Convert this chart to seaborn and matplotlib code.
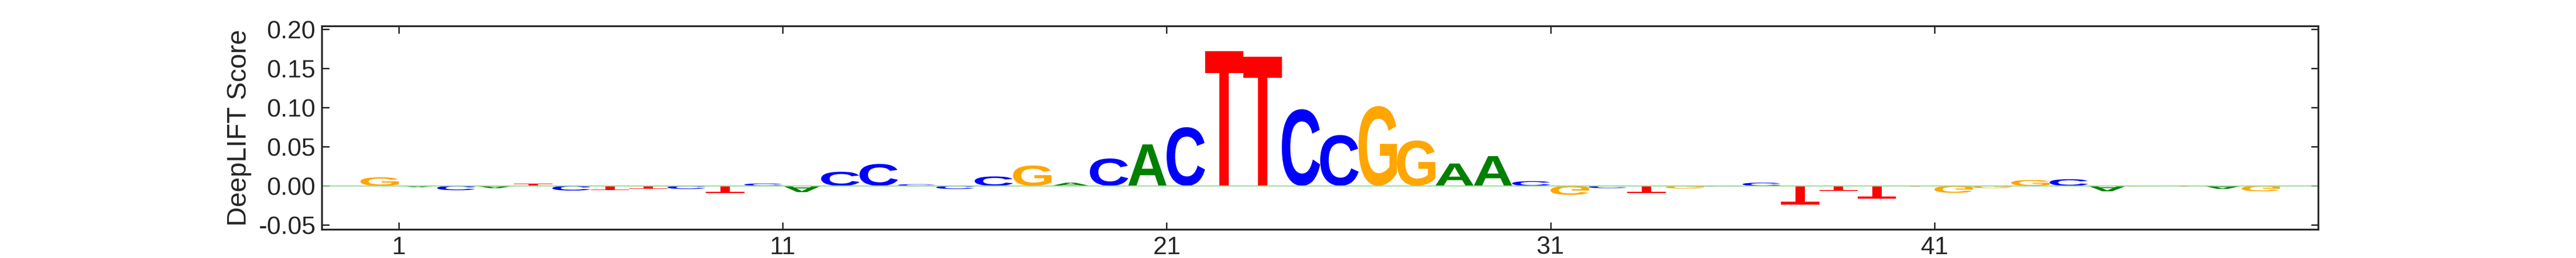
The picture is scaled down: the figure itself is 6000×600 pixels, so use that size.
import matplotlib
matplotlib.use("Agg")
import matplotlib.pyplot as plt
import seaborn as sns
from matplotlib.textpath import TextPath
from matplotlib.patches import PathPatch
from matplotlib.font_manager import FontProperties
from matplotlib.transforms import Affine2D

scores = [0.011, -0.0017, -0.0056, -0.003, 0.003, -0.006, -0.0055, -0.004, -0.004, -0.009,
          0.003, -0.008, 0.018, 0.028, 0.002, -0.004, 0.012, 0.026, 0.004, 0.035,
          0.053, 0.075, 0.172, 0.165, 0.098, 0.065, 0.102, 0.058, 0.0285, 0.038,
          0.006, -0.0115, -0.003, -0.009, -0.0035, -0.001, 0.004, -0.024, -0.0065, -0.0165,
          -0.001, -0.009, -0.003, 0.0075, 0.0085, -0.007, -0.001, -0.001, -0.004, -0.007]
letters = list("GACATCTTCTCACCCCCGACACTTCCGGAACGCTGCCTTTTGGGCAGTAG")
tick_pos = [1, 11, 21, 31, 41]
tick_labels = ["1", "11", "21", "31", "41"]
y_ticks = [-0.05, 0.0, 0.05, 0.10, 0.15, 0.20]
colors = {"A": (0, 0.5, 0), "C": (0, 0, 1), "G": (1, 0.65, 0), "T": (1, 0, 0)}

sns.set_style("ticks")
plt.rcParams['font.family'] = ['Liberation Sans', 'DejaVu Sans']

fig, ax = plt.subplots(figsize=(20, 2), dpi=300)
fig.subplots_adjust(left=0.125, right=0.9, bottom=0.11, top=0.898)
sns.lineplot(x=[-1, 51], y=[0, 0], ax=ax, color=(0.6, 0.85, 0.6), linewidth=0.6)

fp = FontProperties(family="Liberation Sans", weight="bold")
for j, (L, h) in enumerate(zip(letters, scores)):
    tp = TextPath((0, 0), L, size=1, prop=fp)
    ext = tp.get_extents()
    tr = (Affine2D().translate(-ext.x0, -ext.y0)
          .scale(1.0 / ext.width, h / ext.height)
          .translate(j, 0))
    ax.add_patch(PathPatch(tr.transform_path(tp), facecolor=colors[L], edgecolor="none"))

ax.set_xlim(-1, 51)
ax.set_ylim(-0.056, 0.204)
ax.set_xticks(tick_pos)
ax.set_xticklabels(tick_labels)
ax.set_yticks(y_ticks)
ax.set_yticklabels([f"{v:.2f}" for v in y_ticks])
ax.tick_params(direction="in", top=True, right=True, labelsize=14, length=4, width=0.8)
for s in ax.spines.values():
    s.set_linewidth(1.0)
    s.set_visible(True)
ax.set_ylabel("DeepLIFT Score", fontsize=15)
fig.savefig("out.png", dpi=300)
